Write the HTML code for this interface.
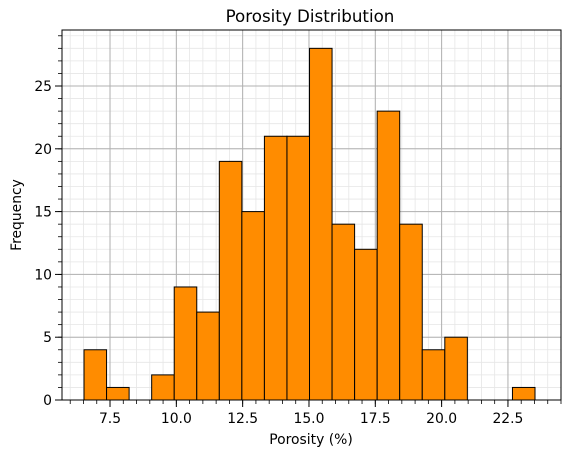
<!DOCTYPE html>
<html><head><meta charset="utf-8"><style>
body{margin:0;background:#fff;font-family:"Liberation Sans","DejaVu Sans",sans-serif;}
svg text{font-family:"DejaVu Sans","Liberation Sans",sans-serif;}
</style></head><body>
<svg id="chart" width="567" height="458" xmlns="http://www.w3.org/2000/svg"></svg>
<script>
const binStart = 6.52;
const binWidth = 0.85;
const counts = [4,1,0,2,9,7,19,15,21,21,28,14,12,23,14,4,5,0,0,1];
const xTickLabels = ["7.5","10.0","12.5","15.0","17.5","20.0","22.5"];
const yTickLabels = ["0","5","10","15","20","25"];
const L=62,R=561,T=30,B=400;
const xMin=5.69,xMax=24.5,yMax=29.46;
const sx=v=>L+(v-xMin)/(xMax-xMin)*(R-L);
const sy=v=>B-v/yMax*(B-T);
const svg=document.getElementById('chart');
const NS="http://www.w3.org/2000/svg";
function mk(t,a,p){const e=document.createElementNS(NS,t);for(const k in a)e.setAttribute(k,a[k]);(p||svg).appendChild(e);return e;}
const grid=mk('g',{});


for(let v=6;v<=24.5;v+=0.5){const x=sx(v);mk('line',{x1:x,x2:x,y1:T,y2:B,stroke:'#e6e6e6','stroke-width':0.8},grid);}
for(let v=1;v<yMax;v++){const y=sy(v);mk('line',{x1:L,x2:R,y1:y,y2:y,stroke:'#e6e6e6','stroke-width':0.8},grid);}
xTickLabels.forEach(s=>{const x=sx(parseFloat(s));mk('line',{x1:x,x2:x,y1:T,y2:B,stroke:'#b0b0b0','stroke-width':1},grid);});
yTickLabels.forEach(s=>{const y=sy(parseFloat(s));mk('line',{x1:L,x2:R,y1:y,y2:y,stroke:'#b0b0b0','stroke-width':1},grid);});
counts.forEach((c,i)=>{
  const x0=sx(binStart+i*binWidth),x1=sx(binStart+(i+1)*binWidth);
  const r=mk('rect',{x:x0,y:sy(c),width:x1-x0,height:B-sy(c),fill:'#ff8c00',stroke:'#000','stroke-width':1});
  
  
});
const ax=mk('rect',{x:L,y:T,width:R-L,height:B-T,fill:'none',stroke:'#000','stroke-width':1});


for(let v=6;v<=24.5;v+=0.5){const x=sx(v);mk('line',{x1:x,x2:x,y1:B,y2:B+4,stroke:'#000','stroke-width':0.8});}
for(let v=1;v<yMax;v++){const y=sy(v);mk('line',{x1:L,x2:L-4,y1:y,y2:y,stroke:'#000','stroke-width':0.8});}
xTickLabels.forEach(s=>{const x=sx(parseFloat(s));mk('line',{x1:x,x2:x,y1:B,y2:B+7,stroke:'#000'});
  const t=mk('text',{x:x,y:B+23,'text-anchor':'middle','font-size':13.9});t.textContent=s;
  });
yTickLabels.forEach(s=>{const y=sy(parseFloat(s));mk('line',{x1:L,x2:L-7,y1:y,y2:y,stroke:'#000'});
  const t=mk('text',{x:L-10,y:y+5,'text-anchor':'end','font-size':13.9});t.textContent=s;
  });
</script>
<svg style="position:absolute;left:0;top:0" width="567" height="458">
<text x="310" y="22" text-anchor="middle" font-size="16.7">Porosity Distribution</text>
<text x="311" y="444" text-anchor="middle" font-size="13.9">Porosity (%)</text>
<text x="0" y="0" transform="translate(21,215) rotate(-90)" text-anchor="middle" font-size="13.9">Frequency</text>
</svg>
</body></html>
